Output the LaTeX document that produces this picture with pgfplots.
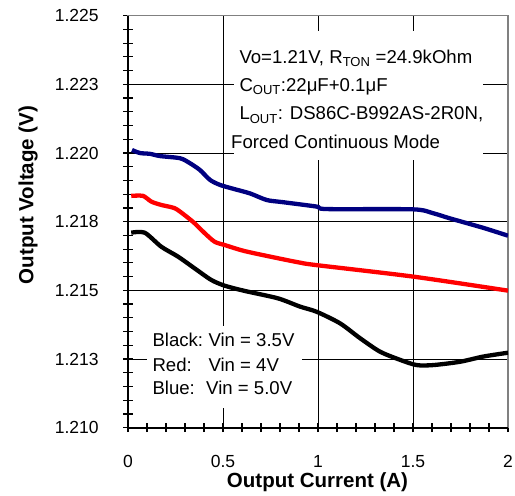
\documentclass[border=0pt]{standalone}
\usepackage{fontspec}
\setmainfont{Liberation Sans}
\usepackage{pgfplots}
\pgfplotsset{compat=1.18}
\definecolor{vnavy}{RGB}{0,0,128}
\definecolor{framegray}{RGB}{128,128,128}
\newcommand\annot{\fontsize{18.6bp}{22bp}\selectfont}

\begin{document}
\begin{tikzpicture}
\useasboundingbox (0,0) rectangle (515bp,496bp);
\begin{axis}[
  name=ax,
  at={(128bp,68.3bp)}, anchor=south west,
  scale only axis, width=380bp, height=412bp,
  xmin=0, xmax=2, ymin=1.210, ymax=1.225,
  xtick={0,0.5,1,1.5,2}, xticklabels={0,0.5,1,1.5,2},
  ytick={1.210,1.2125,1.215,1.2175,1.220,1.2225,1.225},
  yticklabels={1.210,1.213,1.215,1.218,1.220,1.223,1.225},
  minor x tick num=4, minor y tick num=4,
  tick pos=left, tick align=center,
  major tick length=9bp, minor tick length=9bp,
  every tick/.style={black, line width=1.2bp},
  grid=major, major grid style={black, line width=0.8bp},
  axis line style={framegray, line width=1.5bp},
  ticklabel style={font=\fontsize{17.5bp}{20bp}\selectfont, inner sep=0pt},
  yticklabel style={xshift=-24.7bp},
  xticklabel style={yshift=-23bp},
  /pgf/number format/assume math mode=true,
  every axis plot/.append style={line width=4.3bp, line join=round, smooth, tension=0.45},
]
% Blue: Vin = 5.0V
\addplot[vnavy] coordinates {
  (0.021,1.22011) (0.063,1.22000) (0.116,1.21997) (0.168,1.21989)
  (0.274,1.21981) (0.326,1.21963) (0.379,1.21938) (0.432,1.21902)
  (0.484,1.21884) (0.553,1.21870) (0.642,1.21853) (0.730,1.21829)
  (0.816,1.21821) (0.993,1.21805) (1.046,1.21796) (1.500,1.21795)
  (1.605,1.21781) (1.695,1.21762) (1.868,1.21728) (2.000,1.21699)
};
% Red: Vin = 4V
\addplot[red] coordinates {
  (0.017,1.21844) (0.079,1.21844) (0.123,1.21823) (0.175,1.21811)
  (0.246,1.21799) (0.298,1.21774) (0.351,1.21744) (0.404,1.21708)
  (0.456,1.21677) (0.509,1.21665) (0.614,1.21643) (0.789,1.21617)
  (0.905,1.21601) (0.991,1.21592) (1.502,1.21550) (2.000,1.21499)
};
% Black: Vin = 3.5V
\addplot[black] coordinates {
  (0.017,1.21710) (0.088,1.21710) (0.175,1.21659) (0.263,1.21623)
  (0.351,1.21580) (0.438,1.21538) (0.509,1.21517) (0.614,1.21498)
  (0.789,1.21471) (0.905,1.21441) (0.993,1.21422) (1.116,1.21380)
  (1.221,1.21326) (1.326,1.21277) (1.432,1.21247) (1.519,1.21228)
  (1.607,1.21228) (1.747,1.21240) (1.870,1.21259) (2.000,1.21273)
};
\end{axis}
\draw[black, line width=2bp] (ax.north west) -- (ax.south west) -- (ax.south east);

% axis labels
\node[anchor=base, font=\fontsize{20.5bp}{24bp}\bfseries\selectfont] at (317.5bp,9bp) {Output Current (A)};
\node[anchor=base, rotate=90, font=\fontsize{20.5bp}{24bp}\bfseries\selectfont] at (33.3bp,301bp) {Output Voltage (V)};

% conditions box
\fill[white] (234bp,336bp) rectangle (483bp,465bp);
\begin{scope}[every node/.style={anchor=base west, inner sep=0pt, font=\annot}]
\node at (239.3bp,432.7bp) {Vo=1.21V, R\textsubscript{TON} =24.9kOhm};
\node at (239.3bp,404.3bp) {C\textsubscript{OUT}:22μF+0.1μF};
\node at (239.3bp,376bp) {L\textsubscript{OUT}: DS86C-B992AS-2R0N,};
\node at (231bp,347.7bp) {Forced Continuous Mode};
\end{scope}

% series key box
\fill[white] (147bp,88bp) rectangle (302bp,170bp);
\begin{scope}[every node/.style={anchor=base west, inner sep=0pt, font=\annot}]
\node at (152.3bp,149.3bp) {Black:};
\node at (208.3bp,149.3bp) {Vin = 3.5V};
\node at (152.3bp,124.3bp) {Red:};
\node at (208.3bp,124.3bp) {Vin = 4V};
\node at (152.3bp,101bp) {Blue:};
\node at (206bp,101bp) {Vin = 5.0V};
\end{scope}
\end{tikzpicture}
\end{document}
